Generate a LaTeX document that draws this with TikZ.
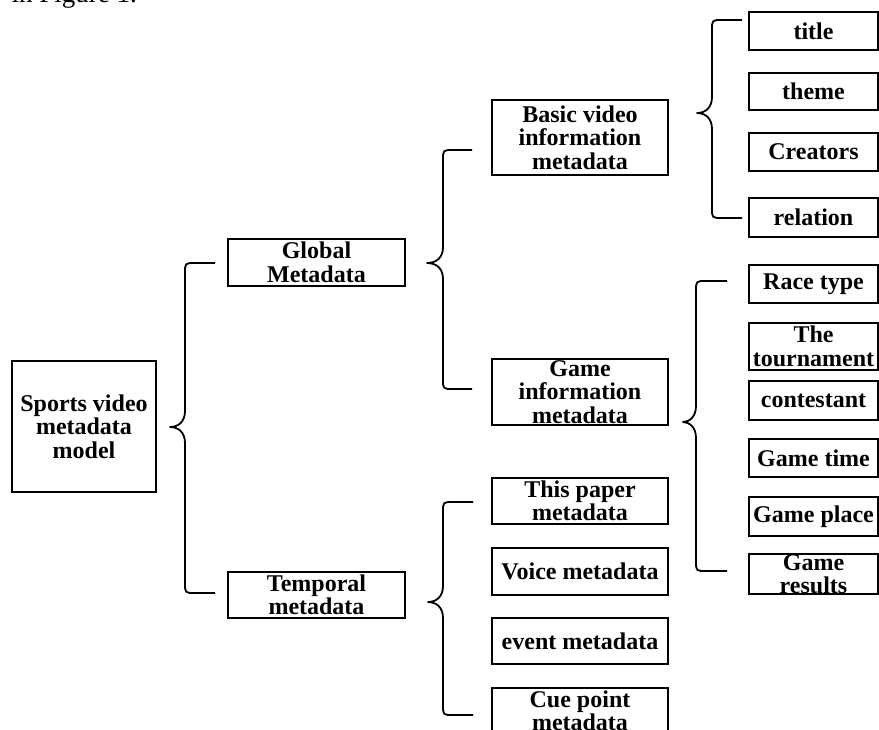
\documentclass[tikz,border=0pt]{standalone}
\usepackage{fontspec}
\setmainfont{Liberation Serif}
\tikzset{
  box/.style={draw, line width=1.7pt, inner sep=0pt, align=center,
    font=\bfseries\fontsize{24}{23.5}\selectfont},
  brace/.style={draw, line width=1.8pt, line join=round},
}
% #1 Xv, #2 tip x, #3 y top, #4 y bottom, #5 y tip, #6 hook end x, #7 name prefix
\newcommand\mybrace[7]{%
  \coordinate (#7tip) at (#2,#5);
  \coordinate (#7top) at (#6,#3);
  \coordinate (#7bot) at (#6,#4);
  \draw[brace] (#7top) -- (#1+10,#3) .. controls (#1,#3) .. (#1,#3+10)
    -- (#1,#5-16) .. controls (#1,#5-5) and (#1-7,#5) .. (#7tip)
    .. controls (#1-7,#5) and (#1,#5+5) .. (#1,#5+16)
    -- (#1,#4-10) .. controls (#1,#4) .. (#1+10,#4) -- (#7bot);
}
\begin{document}
\begin{tikzpicture}[x=1pt,y=-1pt]
\useasboundingbox (0,0) rectangle (879,729);
\clip (0,0) rectangle (879,729);

\node[anchor=base east, inner sep=0pt, font=\fontsize{27}{27}\selectfont] (fig) at (137,2) {in Figure 1.};

% level 0
\node[box, minimum width=144pt, minimum height=131pt] (root) at (84,426.5) {Sports video\\metadata\\model};
% level 1
\node[box, minimum width=177pt, minimum height=47pt] (global) at (316.5,262.5) {Global\\Metadata};
\node[box, minimum width=177pt, minimum height=46pt] (temporal) at (316.5,595) {Temporal\\metadata};
% level 2
\node[box, minimum width=176pt, minimum height=75pt] (basic) at (580,137.5) {Basic video\\information\\metadata};
\node[box, minimum width=176pt, minimum height=66pt] (game) at (580,392) {Game\\information\\metadata};
\node[box, minimum width=176pt, minimum height=46pt] (paper) at (580,501) {This paper\\metadata};
\node[box, minimum width=176pt, minimum height=47pt] (voice) at (580,571.5) {Voice metadata};
\node[box, minimum width=176pt, minimum height=46pt] (event) at (580,641) {event metadata};
\node[box, minimum width=176pt, minimum height=46pt] (cue) at (580,711) {Cue point\\metadata};
% level 3
\node[box, minimum width=129pt, minimum height=38pt] (title) at (813.5,31) {title};
\node[box, minimum width=129pt, minimum height=37pt] (theme) at (813.5,91.5) {theme};
\node[box, minimum width=129pt, minimum height=38pt] (creators) at (813.5,152) {Creators};
\node[box, minimum width=129pt, minimum height=39pt] (relation) at (813.5,217.5) {relation};
\node[box, minimum width=129pt, minimum height=38pt] (race) at (813.5,284) {Race type};
\node[box, minimum width=129pt, minimum height=47pt] (tourn) at (813.5,346.5) {The\\tournament};
\node[box, minimum width=129pt, minimum height=39pt] (contestant) at (813.5,400.5) {contestant};
\node[box, minimum width=129pt, minimum height=38pt] (gtime) at (813.5,458) {Game time};
\node[box, minimum width=129pt, minimum height=39pt] (gplace) at (813.5,516.5) {Game place};
\node[box, minimum width=129pt, minimum height=38pt] (gresults) at (813.5,574) {Game\\results};

% braces
\mybrace{185}{170}{263}{593}{427}{215}{ba}
\mybrace{443}{427}{150}{389}{263}{472}{bb}
\mybrace{712}{697}{20}{218}{113}{742}{bc}
\mybrace{696}{683}{281}{571}{422}{727}{bd}
\mybrace{443}{428}{502}{715}{602}{473}{be}
\end{tikzpicture}
\end{document}
